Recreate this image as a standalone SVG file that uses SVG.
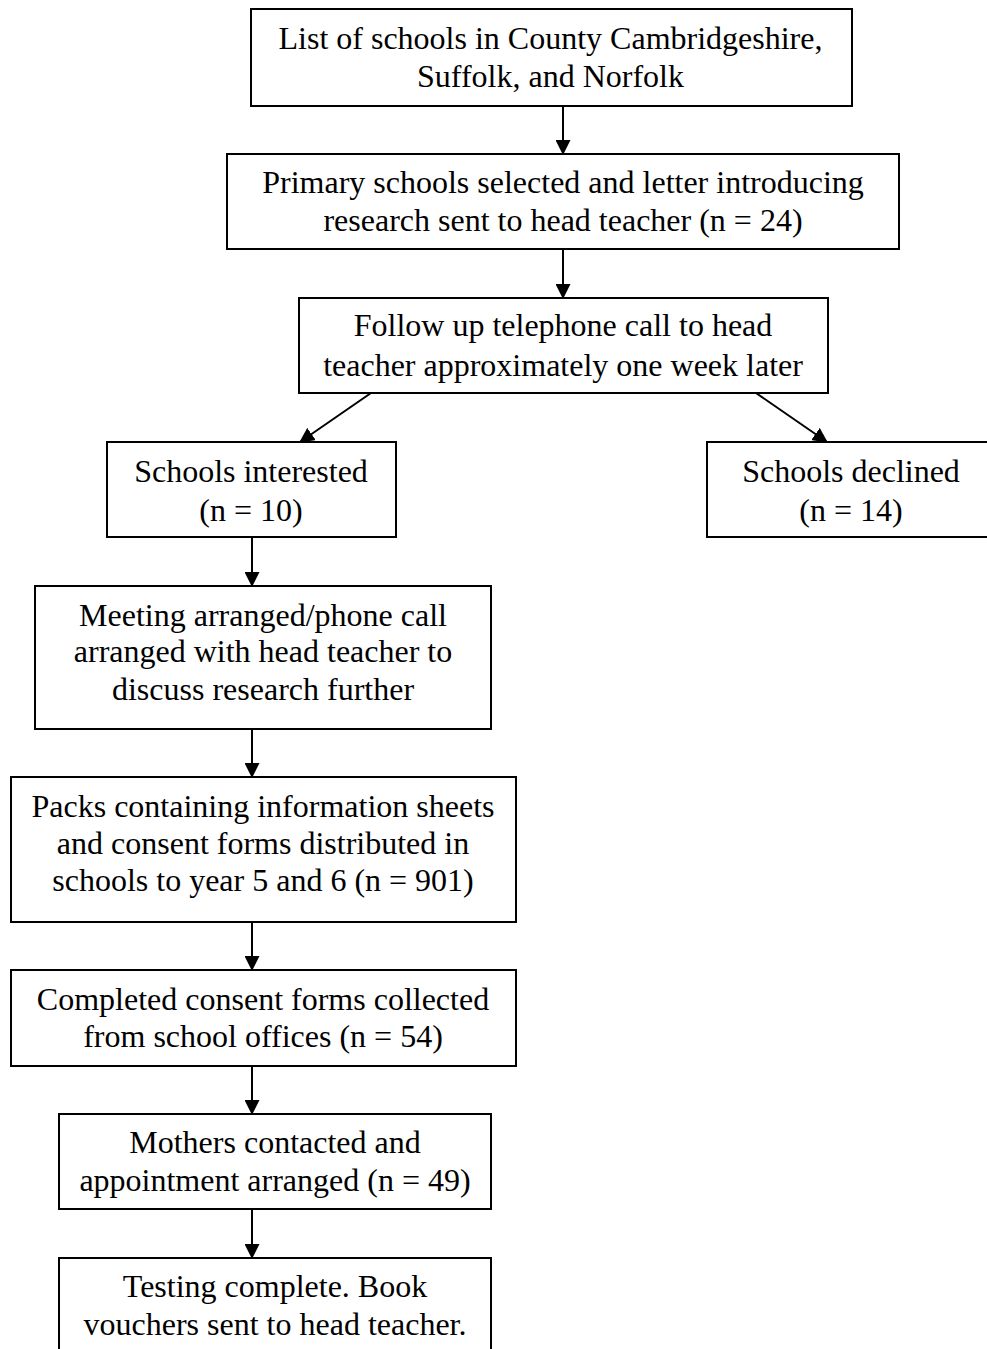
<svg xmlns="http://www.w3.org/2000/svg" width="987" height="1349" viewBox="0 0 987 1349">
  <style>
    .box { fill: #ffffff; stroke: #000000; stroke-width: 2; }
    .lbl { font-family: "Liberation Serif", "Times New Roman", serif; font-size: 32px; fill: #000000; text-anchor: middle; }
    .conn { stroke: #000000; stroke-width: 2; fill: none; marker-end: url(#arrow); }
  </style>
  <defs>
    <marker id="arrow" markerWidth="15" markerHeight="15" refX="14" refY="7.5" orient="auto" markerUnits="userSpaceOnUse" viewBox="0 0 15 15">
      <path d="M0,0 L15,7.5 L0,15 z" fill="#000000"/>
    </marker>
  </defs>
  <rect x="0" y="0" width="987" height="1349" fill="#ffffff"/>

  <g id="connectors">
    <line class="conn" x1="563" y1="106" x2="563" y2="154"/>
    <line class="conn" x1="563" y1="249" x2="563" y2="298"/>
    <line class="conn" x1="371" y1="393" x2="300" y2="442"/>
    <line class="conn" x1="756" y1="393" x2="827" y2="442"/>
    <line class="conn" x1="252" y1="537" x2="252" y2="586"/>
    <line class="conn" x1="252" y1="729" x2="252" y2="777"/>
    <line class="conn" x1="252" y1="922" x2="252" y2="970"/>
    <line class="conn" x1="252" y1="1066" x2="252" y2="1114"/>
    <line class="conn" x1="252" y1="1209" x2="252" y2="1258"/>
  </g>

  <g id="list-of-schools">
    <rect class="box" x="251" y="9" width="601" height="97"/>
    <text class="lbl" x="550.5" y="49">List of schools in County Cambridgeshire,</text>
    <text class="lbl" x="550.5" y="87">Suffolk, and Norfolk</text>
  </g>

  <g id="letter-sent">
    <rect class="box" x="227" y="154" width="672" height="95"/>
    <text class="lbl" x="563" y="193">Primary schools selected and letter introducing</text>
    <text class="lbl" x="563" y="231">research sent to head teacher (n = 24)</text>
  </g>

  <g id="telephone-call">
    <rect class="box" x="299" y="298" width="529" height="95"/>
    <text class="lbl" x="563" y="336">Follow up telephone call to head</text>
    <text class="lbl" x="563" y="376">teacher approximately one week later</text>
  </g>

  <g id="schools-interested">
    <rect class="box" x="107" y="442" width="289" height="95"/>
    <text class="lbl" x="251" y="482">Schools interested</text>
    <text class="lbl" x="251" y="521">(n = 10)</text>
  </g>

  <g id="schools-declined">
    <rect class="box" x="707" y="442" width="288" height="95"/>
    <text class="lbl" x="851" y="482">Schools declined</text>
    <text class="lbl" x="851" y="521">(n = 14)</text>
  </g>

  <g id="meeting-arranged">
    <rect class="box" x="35" y="586" width="456" height="143"/>
    <text class="lbl" x="263" y="626">Meeting arranged/phone call</text>
    <text class="lbl" x="263" y="662">arranged with head teacher to</text>
    <text class="lbl" x="263" y="700">discuss research further</text>
  </g>

  <g id="packs-distributed">
    <rect class="box" x="11" y="777" width="505" height="145"/>
    <text class="lbl" x="263" y="817">Packs containing information sheets</text>
    <text class="lbl" x="263" y="854">and consent forms distributed in</text>
    <text class="lbl" x="263" y="891">schools to year 5 and 6 (n = 901)</text>
  </g>

  <g id="consent-collected">
    <rect class="box" x="11" y="970" width="505" height="96"/>
    <text class="lbl" x="263" y="1010">Completed consent forms collected</text>
    <text class="lbl" x="263" y="1047">from school offices (n = 54)</text>
  </g>

  <g id="mothers-contacted">
    <rect class="box" x="59" y="1114" width="432" height="95"/>
    <text class="lbl" x="275" y="1153">Mothers contacted and</text>
    <text class="lbl" x="275" y="1191">appointment arranged (n = 49)</text>
  </g>

  <g id="testing-complete">
    <rect class="box" x="59" y="1258" width="432" height="100"/>
    <text class="lbl" x="275" y="1297">Testing complete. Book</text>
    <text class="lbl" x="275" y="1335">vouchers sent to head teacher.</text>
  </g>
</svg>
